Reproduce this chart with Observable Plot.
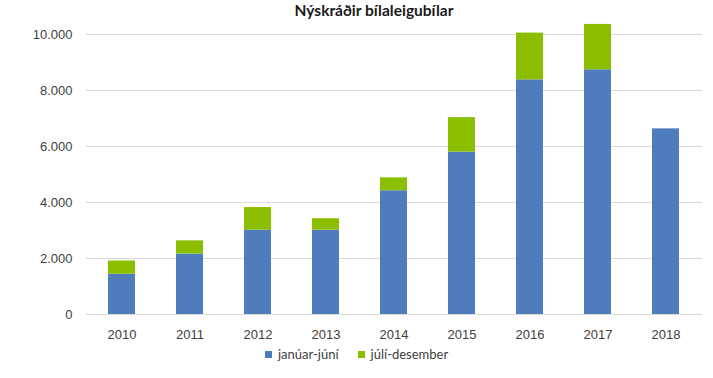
<!DOCTYPE html>
<html><head><meta charset="utf-8">
<script src="https://cdn.jsdelivr.net/npm/d3@7"></script>
<script src="https://cdn.jsdelivr.net/npm/@observablehq/plot@0.6"></script>
<style>
body{margin:0;background:#fff;}
#wrap{position:relative;width:713px;height:378px;overflow:hidden;background:#fff;}
#title{position:absolute;left:0;width:748px;top:1px;text-align:center;font:bold 15.5px Lato,"Open Sans",sans-serif;color:#1a1a1a;}
#chart{position:absolute;left:0;top:0;}
#legend{position:absolute;top:346px;left:265px;font:13px Lato,"Open Sans",sans-serif;color:#404040;display:flex;align-items:center;}
#legend span.sw{display:inline-block;width:7px;height:7px;margin-right:6px;}
#legend .item{display:flex;align-items:center;margin-right:19px;}
</style></head>
<body><div id="wrap"><div id="chart"></div><div id="title">Nýskráðir bílaleigubílar</div><div id="legend"></div></div>
<script>
const years = ["2010","2011","2012","2013","2014","2015","2016","2017","2018"];
const seriesNames = ["janúar-júní","júlí-desember"];
const janJun = [1440, 2160, 3010, 3010, 4420, 5800, 8380, 8740, 6630];
const julDes = [470, 470, 810, 410, 460, 1230, 1670, 1620, 0];
const yTicks = [0, 2000, 4000, 6000, 8000, 10000];
const colors = ["#4f7cbd", "#8cbe00"];

const data = [];
years.forEach((y, i) => {
  data.push({year: y, series: seriesNames[0], value: janJun[i]});
  data.push({year: y, series: seriesNames[1], value: julDes[i]});
});
const fmt = d3.formatLocale({decimal: ",", thousands: ".", grouping: [3], currency: ["", ""]}).format(",d");

const plot = Plot.plot({
  width: 713, height: 378,
  marginTop: 34, marginBottom: 64, marginLeft: 86, marginRight: 11,
  style: {fontFamily: "'Liberation Sans', Arial, sans-serif", fontSize: "13px", color: "#404040", background: "transparent"},
  x: {domain: years, paddingInner: 0.6, paddingOuter: 0.3, label: null, tickSize: 0, tickPadding: 15},
  y: {domain: [0, 10000], ticks: yTicks, tickFormat: fmt, label: null, tickSize: 0, tickPadding: 14},
  color: {domain: seriesNames, range: colors},
  marks: [
    Plot.gridY(yTicks, {stroke: "#d9d9d9", strokeOpacity: 1, strokeWidth: 1}),
    Plot.barY(data, {x: "year", y: "value", fill: "series", order: seriesNames}),
  ]
});
document.getElementById("chart").appendChild(plot);

const leg = document.getElementById("legend");
seriesNames.forEach((s, i) => {
  const it = document.createElement("div"); it.className = "item";
  const sw = document.createElement("span"); sw.className = "sw"; sw.style.background = colors[i];
  const t = document.createElement("span"); t.textContent = s;
  it.appendChild(sw); it.appendChild(t); leg.appendChild(it);
});
</script></body></html>
